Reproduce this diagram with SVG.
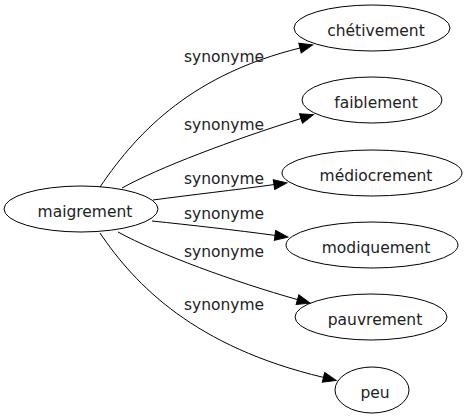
<svg xmlns="http://www.w3.org/2000/svg" width="466" height="419" viewBox="0 0 466 419">
<style>
  .node ellipse { fill: none; stroke: #000; stroke-width: 1; }
  .node text, .lbl { font-family: "DejaVu Sans", "Liberation Sans", sans-serif; font-size: 15.5px; fill: #222; text-anchor: middle; }
  .edge { fill: none; stroke: #000; stroke-width: 1; marker-end: url(#arrow); }
</style>
<defs>
  <marker id="arrow" markerUnits="userSpaceOnUse" markerWidth="14" markerHeight="10" refX="0" refY="5" orient="auto" overflow="visible">
    <path d="M0,0 L13,5 L0,10 Z" fill="#000" stroke="#000" stroke-width="1"/>
  </marker>
</defs>
<rect width="466" height="419" fill="#fff"/>
<g id="connectors">
  <path class="edge" d="M100,187 C140,128 195,74 300,48"/>
  <path class="edge" d="M122,188 C158,168 232,140 301,118.5"/>
  <path class="edge" d="M153,200 C190,195 235,190 274,184.6"/>
  <path class="edge" d="M152,221 C190,225 235,230 275,235.4"/>
  <path class="edge" d="M118,232 C158,254 235,282 297.5,299.6"/>
  <path class="edge" d="M100,233 C135,285 195,347 323.5,377.4"/>
  <text class="lbl" x="224" y="62">synonyme</text>
  <text class="lbl" x="224" y="130">synonyme</text>
  <text class="lbl" x="224" y="184">synonyme</text>
  <text class="lbl" x="224" y="219">synonyme</text>
  <text class="lbl" x="224" y="257">synonyme</text>
  <text class="lbl" x="224" y="310">synonyme</text>
</g>
<g id="maigrement" class="node">
  <ellipse cx="81" cy="209" rx="77" ry="23"/>
  <text x="85" y="217">maigrement</text>
</g>
<g id="chetivement" class="node">
  <ellipse cx="372" cy="28" rx="78" ry="23"/>
  <text x="376" y="35.5">chétivement</text>
</g>
<g id="faiblement" class="node">
  <ellipse cx="372" cy="100" rx="70" ry="23"/>
  <text x="376" y="107.5">faiblement</text>
</g>
<g id="mediocrement" class="node">
  <ellipse cx="372" cy="173" rx="90" ry="23"/>
  <text x="376" y="180.5">médiocrement</text>
</g>
<g id="modiquement" class="node">
  <ellipse cx="372" cy="245" rx="86" ry="23"/>
  <text x="376" y="252.5">modiquement</text>
</g>
<g id="pauvrement" class="node">
  <ellipse cx="371" cy="317" rx="76" ry="23"/>
  <text x="375" y="324.5">pauvrement</text>
</g>
<g id="peu" class="node">
  <ellipse cx="372" cy="390" rx="37" ry="23"/>
  <text x="375" y="397.5">peu</text>
</g>
</svg>
